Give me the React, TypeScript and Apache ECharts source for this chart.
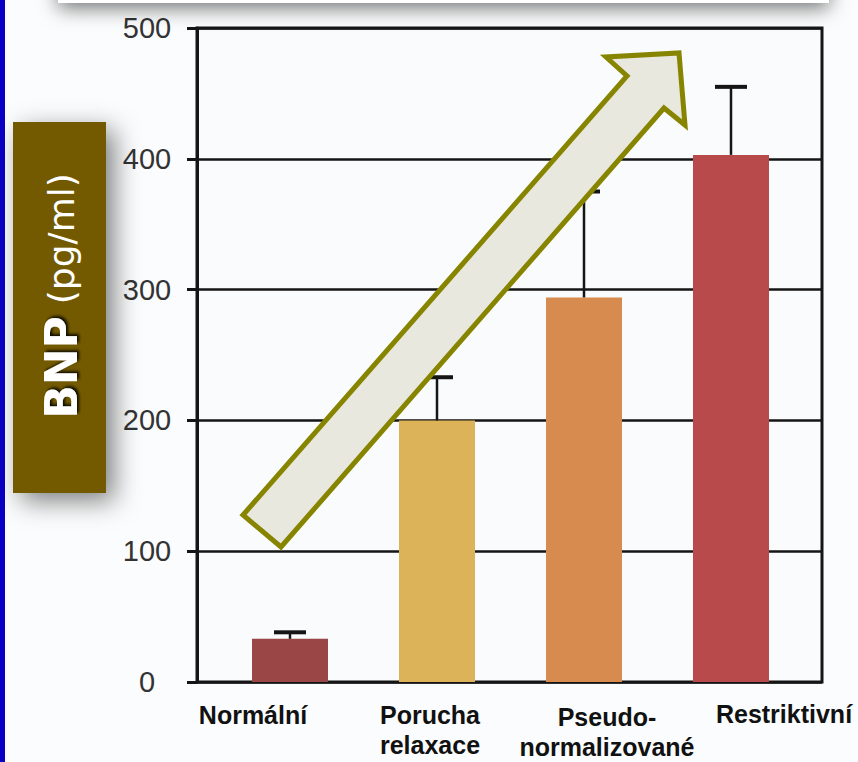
import React, { useEffect, useRef } from "react";
import * as echarts from "echarts";

const categories = ["Normální", "Porucha\nrelaxace", "Pseudo-\nnormalizované", "Restriktivní"];
const bnpMean = [33, 200, 294, 403];
const bnpError = [5, 33, 81, 52];
const barColors = ["#9a4646", "#ddb35a", "#d88b4e", "#b84a4b"];
const yTicks = [0, 100, 200, 300, 400, 500];
const axisTitleMain = "BNP";
const axisTitleUnit = "(pg/ml)";

export default function App() {
  const ref = useRef<HTMLDivElement>(null);
  useEffect(() => {
    if (!ref.current) return;
    const chart = echarts.init(ref.current, null, { renderer: "svg" });
    const font = "'Liberation Sans', Arial, Helvetica, sans-serif";
    const titleFont = "'DejaVu Sans', Verdana, sans-serif";
    const yMin = yTicks[0];
    const yMax = yTicks[yTicks.length - 1];
    const yInterval = yTicks[1] - yTicks[0];
    const labelPad = [1, 1, 5, 0];

    const option: any = {
      animation: false,
      backgroundColor: "#fbfcfd",
      grid: [
        { left: 197, top: 28, width: 625, height: 654, show: true, borderColor: "#151515", borderWidth: 3, backgroundColor: "#f9fbfc" },
        { left: 216.5, top: 28, width: 588, height: 654 },
        { left: 253, top: 28, width: 531, height: 654 },
      ],
      xAxis: [
        { gridIndex: 0, type: "category", data: categories, show: false },
        { gridIndex: 1, type: "category", data: categories, show: false },
        {
          gridIndex: 2,
          type: "category",
          data: categories,
          boundaryGap: false,
          axisLine: { show: false },
          axisTick: { show: false },
          splitLine: { show: false },
          axisLabel: {
            interval: 0,
            margin: 17,
            formatter: (v: string) => {
              const i = categories.indexOf(v);
              return `{c${i}|${v}}`;
            },
            rich: Object.fromEntries(
              categories.map((_, i) => [
                `c${i}`,
                { fontFamily: font, fontWeight: "bold", fontSize: 25, lineHeight: 30, color: "#111", padding: [labelPad[i], 0, 0, 0], align: "center" },
              ])
            ),
          },
        },
      ],
      yAxis: [
        {
          gridIndex: 0,
          type: "value",
          min: yMin,
          max: yMax,
          interval: yInterval,
          axisLine: { show: true, lineStyle: { color: "#151515", width: 3 } },
          axisTick: { show: true, inside: false, length: 10, lineStyle: { color: "#151515", width: 3 } },
          splitLine: { show: true, lineStyle: { color: "#151515", width: 2.5 } },
          axisLabel: { fontFamily: font, fontSize: 29, color: "#333", align: "center", margin: 50 },
        },
        { gridIndex: 1, type: "value", min: yMin, max: yMax, interval: yInterval, show: false, splitLine: { show: false } },
        { gridIndex: 2, type: "value", min: yMin, max: yMax, interval: yInterval, show: false, splitLine: { show: false } },
      ],
      series: [
        {
          type: "bar",
          xAxisIndex: 1,
          yAxisIndex: 1,
          barWidth: 76,
          data: bnpMean.map((v, i) => ({ value: v, itemStyle: { color: barColors[i] } })),
          z: 3,
        },
        {
          type: "custom",
          xAxisIndex: 1,
          yAxisIndex: 1,
          z: 4,
          data: bnpMean.map((v, i) => [i, v, v + bnpError[i]]),
          encode: { x: 0, y: [1, 2] },
          renderItem: (params: any, api: any) => {
            const i = api.value(0);
            const p0 = api.coord([i, api.value(1)]);
            const p1 = api.coord([i, api.value(2)]);
            return {
              type: "group",
              children: [
                { type: "line", shape: { x1: p0[0], y1: p0[1], x2: p1[0], y2: p1[1] }, style: { stroke: "#151515", lineWidth: 2.5 } },
                { type: "line", shape: { x1: p1[0] - 16, y1: p1[1], x2: p1[0] + 16, y2: p1[1] }, style: { stroke: "#151515", lineWidth: 4 } },
              ],
            };
          },
        },
      ],
      graphic: [
        { type: "rect", z: 1, shape: { x: 0, y: 0, width: 5, height: 762 }, style: { fill: "#0a00c4" } },
        {
          type: "rect",
          z: 1,
          shape: { x: 58, y: -30, width: 771, height: 33 },
          style: { fill: "#ffffff", shadowBlur: 20, shadowColor: "rgba(0,0,0,0.55)", shadowOffsetY: 5 },
        },
        {
          type: "rect",
          z: 1,
          shape: { x: 13, y: 122, width: 93, height: 371 },
          style: { fill: "#735a04", shadowBlur: 26, shadowColor: "rgba(0,0,0,0.5)", shadowOffsetX: 8, shadowOffsetY: 8 },
        },
        {
          type: "text",
          z: 2,
          x: 61,
          y: 296,
          rotation: Math.PI / 2,
          style: {
            text: `{b|${axisTitleMain}}{p|${axisTitleUnit}}`,
            align: "center",
            verticalAlign: "middle",
            rich: {
              b: { fontFamily: titleFont, fontWeight: "bold", fontSize: 44, fill: "#ffffff", textShadowColor: "rgba(0,0,0,0.9)", textShadowBlur: 3, textShadowOffsetX: 2, textShadowOffsetY: 2 },
              p: { fontFamily: titleFont, fontSize: 36, fill: "#ffffff", padding: [0, 0, 0, 12] },
            },
          },
        },
        {
          type: "polygon",
          z: 20,
          shape: {
            points: [
              [243, 515],
              [627, 76],
              [606, 57],
              [679, 53],
              [685, 125],
              [664, 108],
              [281, 547],
            ],
          },
          style: { fill: "#e8e8df", stroke: "#878500", lineWidth: 5, lineJoin: "miter" },
        },
      ],
    };
    chart.setOption(option);
    return () => chart.dispose();
  }, []);
  return <div ref={ref} style={{ position: "absolute", left: 0, top: 0, width: 858, height: 762 }} />;
}
